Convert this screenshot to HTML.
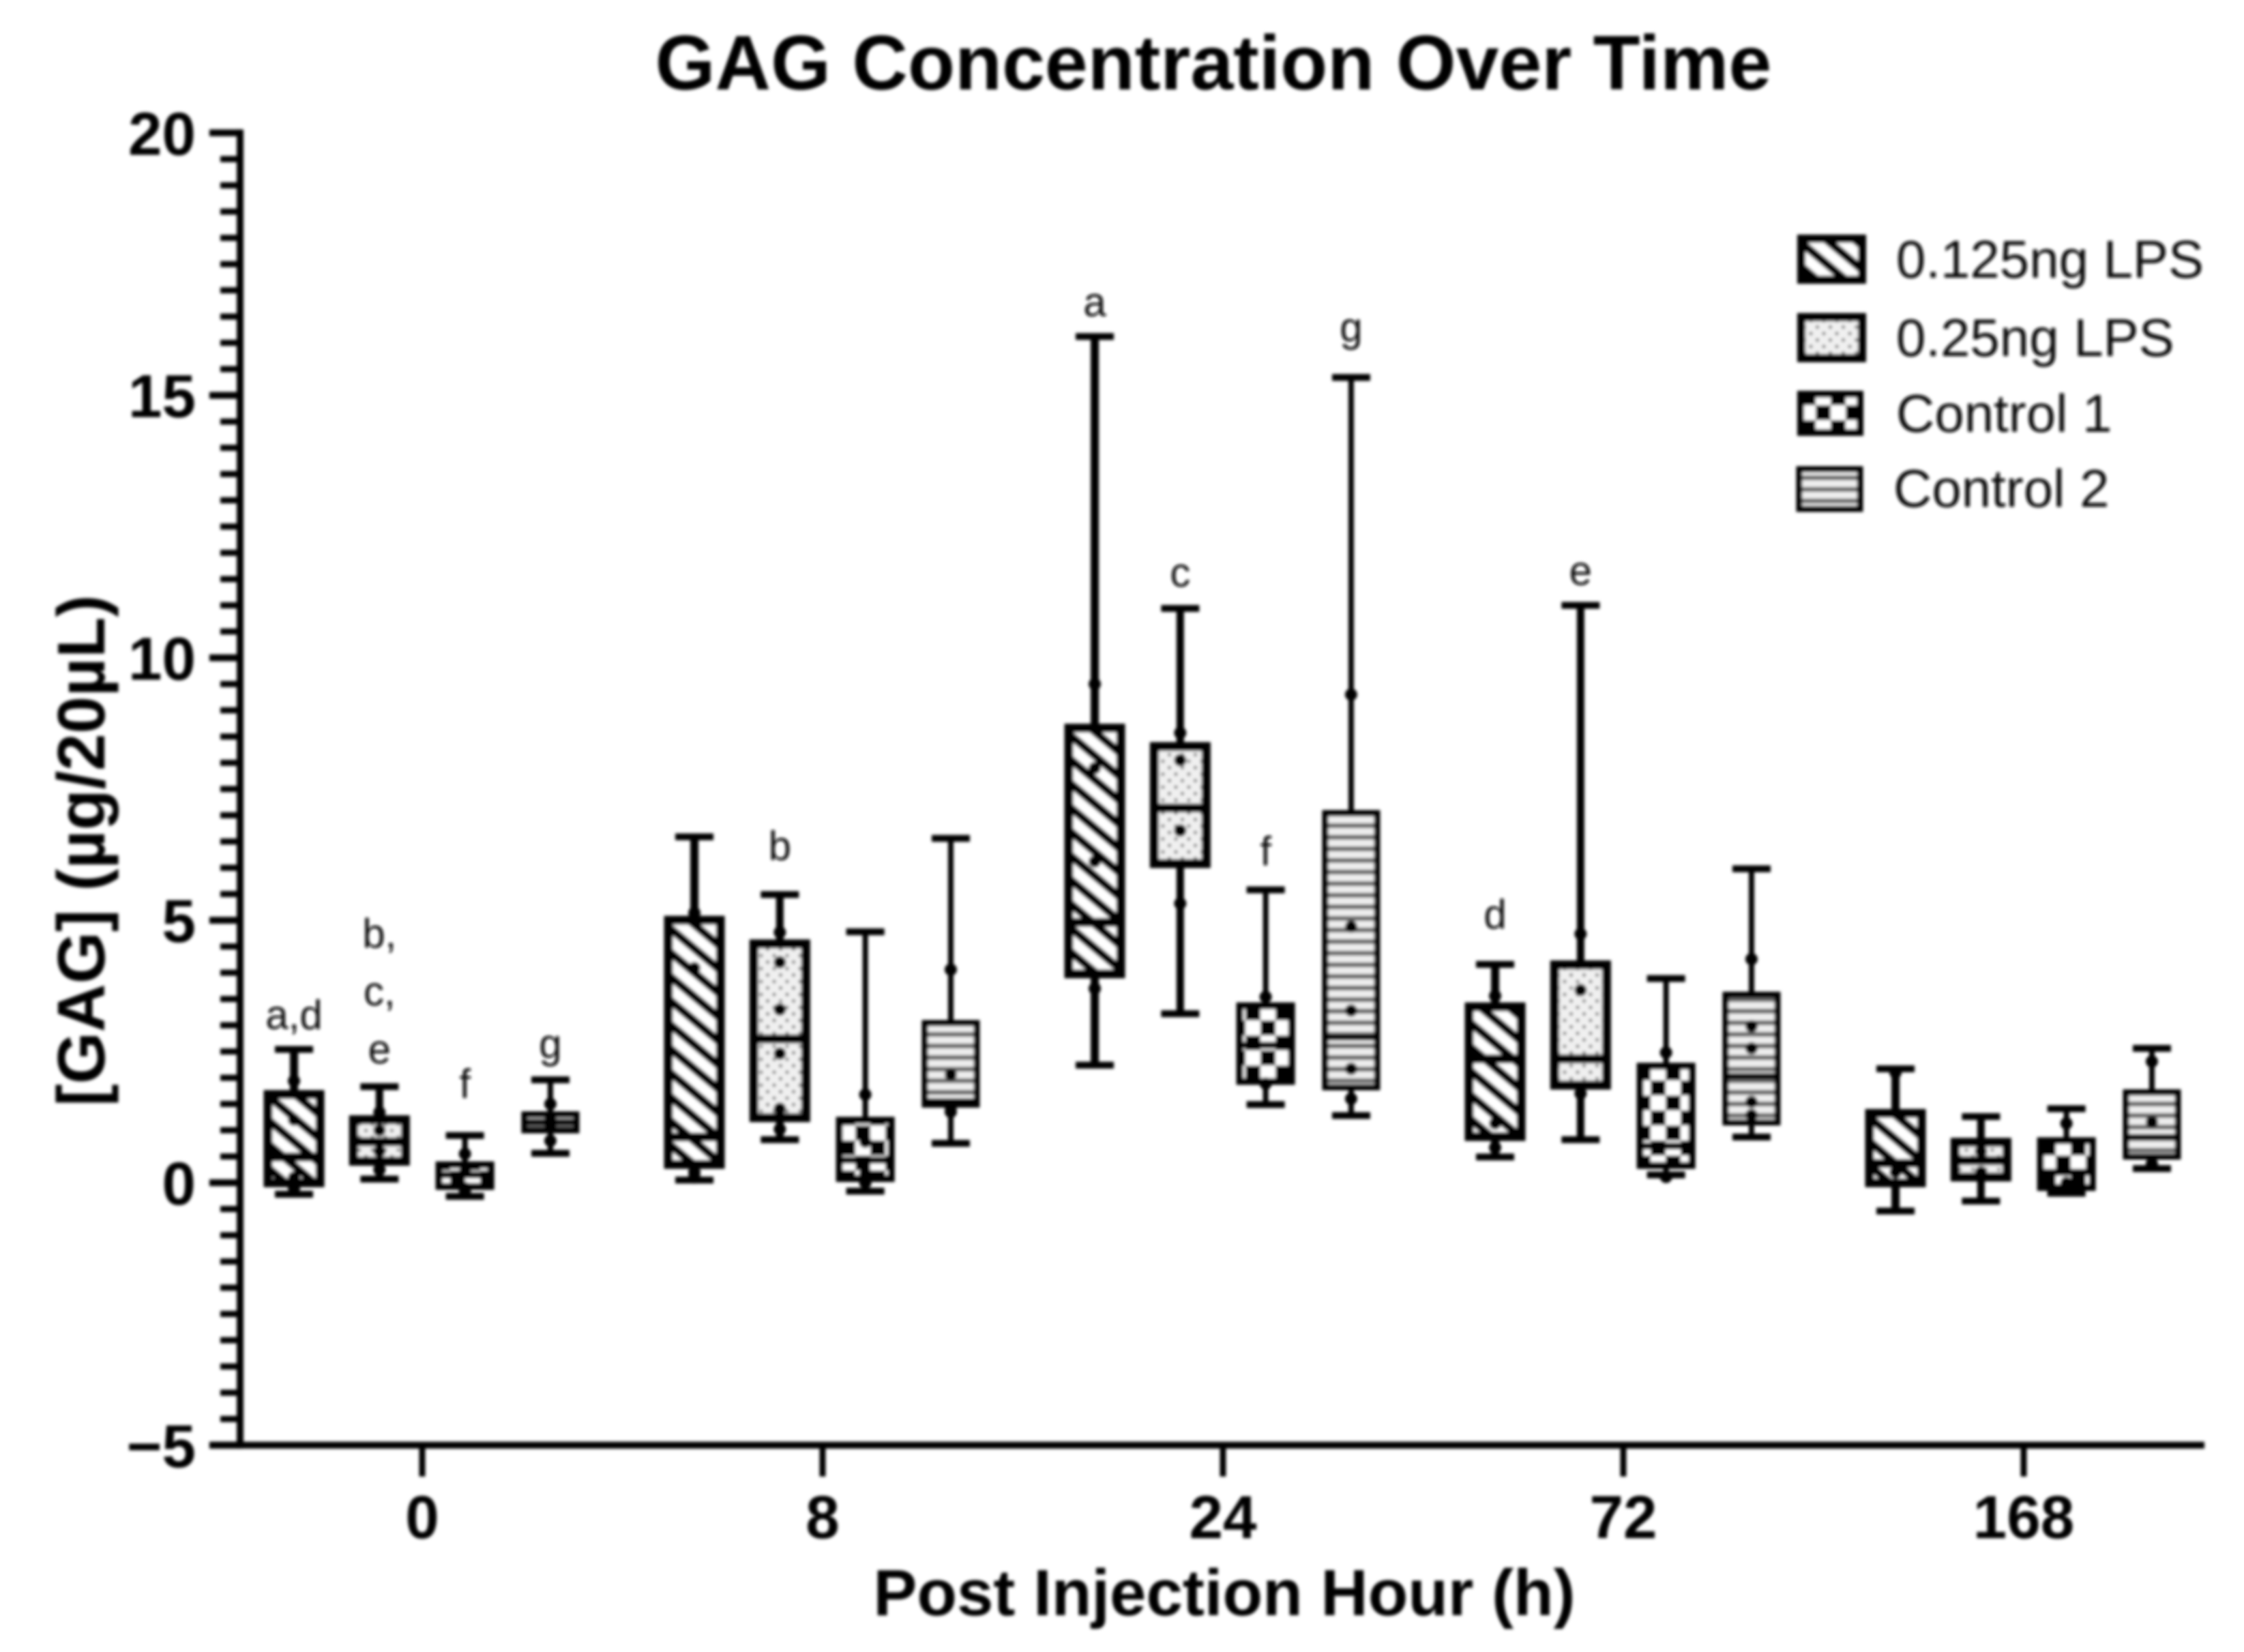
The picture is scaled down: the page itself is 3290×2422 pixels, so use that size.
<!DOCTYPE html>
<html lang="en">
<head>
<meta charset="utf-8">
<title>GAG Concentration Over Time</title>
<style>
html,body{margin:0;padding:0;background:#fff;}
svg{display:block;}
text{font-family:"Liberation Sans",Arial,sans-serif;fill:#000;}
.bold{font-weight:bold;}
.sig{fill:#111;font-size:60px;text-anchor:middle;}
.leg{fill:#111;font-size:78px;}
</style>
</head>
<body>
<svg id="chart" xmlns="http://www.w3.org/2000/svg" width="3290" height="2422" viewBox="0 0 3290 2422">
<defs>
<filter id="soft" x="-5%" y="-5%" width="110%" height="110%"><feGaussianBlur stdDeviation="2.3"/></filter>
<pattern id="p-stripe" patternUnits="userSpaceOnUse" width="27" height="27" patternTransform="rotate(40)">
<rect width="27" height="27" fill="#fff"/><rect width="27" height="12" fill="#000"/>
</pattern>
<pattern id="p-dots" patternUnits="userSpaceOnUse" width="19" height="19">
<rect width="19" height="19" fill="#f0f0f0"/><circle cx="4.5" cy="4.5" r="2.6" fill="#777"/><circle cx="14" cy="14" r="2.6" fill="#777"/>
</pattern>
<pattern id="p-check" patternUnits="userSpaceOnUse" width="44" height="44">
<rect width="44" height="44" fill="#fff"/><rect width="22" height="22" fill="#000"/><rect x="22" y="22" width="22" height="22" fill="#000"/>
</pattern>
<pattern id="p-lines" patternUnits="userSpaceOnUse" width="17" height="17">
<rect width="17" height="17" fill="#eee"/><rect width="17" height="7" fill="#666"/>
</pattern>
</defs>
<g id="root" filter="url(#soft)">
<text class="bold" x="1779" y="131" font-size="113" text-anchor="middle">GAG Concentration Over Time</text>
<text class="bold" x="0" y="0" font-size="98" text-anchor="middle" transform="translate(153 1247) rotate(-90)">[GAG] (µg/20µL)</text>
<text class="bold" x="1795" y="2368" font-size="96" text-anchor="middle">Post Injection Hour (h)</text>

<g>
<g>
<rect x="2641" y="350" width="89" height="60" fill="url(#p-stripe)" stroke="#000" stroke-width="12"/>
<text class="leg" x="2780" y="407">0.125ng LPS</text>
</g>
<g>
<rect x="2641" y="465" width="89" height="60" fill="url(#p-dots)" stroke="#000" stroke-width="12"/>
<text class="leg" x="2780" y="522">0.25ng LPS</text>
</g>
<g>
<rect x="2640" y="578" width="87" height="56" fill="url(#p-check)" stroke="#000" stroke-width="10"/>
<text class="leg" x="2780" y="633">Control 1</text>
</g>
<g>
<rect x="2638" y="688" width="89" height="58" fill="url(#p-lines)" stroke="#000" stroke-width="9"/>
<text class="leg" x="2776" y="743">Control 2</text>
</g>
</g>
</g>
</svg>
<script>
// ---- chart data: rows are time points, columns are series ----
const categories = ['0', '8', '24', '72', '168'];
const seriesNames = ['0.125ng LPS', '0.25ng LPS', 'Control 1', 'Control 2'];
const yTickLabels = [20, 15, 10, 5, 0, -5];
const whiskerHigh = [
  [2.54, 1.83, 0.90, 1.96],
  [6.59, 5.49, 4.78, 6.56],
  [16.12, 10.94, 5.58, 15.34],
  [4.16, 11.00, 3.89, 5.98],
  [2.17, 1.26, 1.41, 2.56]
];
const quartile3 = [
  [1.68, 1.20, 0.34, 1.30],
  [5.00, 4.55, 1.19, 3.04],
  [8.66, 8.31, 3.37, 7.04],
  [3.35, 4.15, 2.22, 3.58],
  [1.32, 0.77, 0.80, 1.72]
];
const medians = [
  [0.49, 0.78, 0.15, 1.16],
  [0.87, 2.74, 0.43, 1.55],
  [4.96, 7.14, 2.62, 2.77],
  [2.36, 2.36, 0.70, 2.03],
  [0.37, 0.42, 0.20, 0.87]
];
const quartile1 = [
  [0.00, 0.41, -0.07, 1.00],
  [0.35, 1.24, 0.08, 1.49],
  [3.98, 6.08, 1.93, 1.82],
  [0.88, 1.86, 0.33, 1.15],
  [0.00, 0.11, -0.09, 0.50]
];
const whiskerLow = [
  [-0.22, 0.07, -0.26, 0.56],
  [0.05, 0.82, -0.16, 0.75],
  [2.24, 3.22, 1.49, 1.28],
  [0.49, 0.82, 0.15, 0.87],
  [-0.54, -0.35, -0.20, 0.27]
];
const samplePoints = [
  [[1.94, 1.20, 0.10, -0.10], [1.34, 1.00, 0.60, 0.25], [0.55, 0.20, -0.10, -0.15], [1.50, 1.20, 1.10, 0.80]],
  [[5.14, 4.09, 0.20, 0.10], [4.77, 4.20, 3.30, 2.46, 1.41, 1.02], [1.68, 0.78, 0.18, 0.00], [4.06, 2.06, 1.45, 1.35]],
  [[9.50, 7.90, 6.12, 3.70], [8.57, 8.05, 6.71, 5.32], [3.54, 1.89], [9.30, 4.88, 3.28, 2.17, 1.60]],
  [[3.56, 1.13, 0.67], [4.74, 3.67, 1.70], [2.48, 0.11], [4.26, 2.98, 2.56, 1.54, 1.29]],
  [[2.10, 0.20], [0.60, 0.20], [1.13, 0.00], [2.31, 1.16, 0.36]]
];
const sigLetters = [
  [['a,d'], ['b,', 'c,', 'e'], ['f'], ['g']],
  [[], ['b'], [], []],
  [['a'], ['c'], ['f'], ['g']],
  [['d'], ['e'], [], []],
  [[], [], [], []]
];

// ---- layout (not data) ----
const SVGNS = 'http://www.w3.org/2000/svg';
const root = document.getElementById('root');
const labelGap = [
  [30, 34, 55, 32],
  [30, 51, 30, 30],
  [30, 32, 36, 53],
  [53, 30, 30, 30],
  [30, 30, 30, 30]
];
function yScale(v) { return 1734 - 76.96 * v; }
function xCategory(i) { return 619 + 587 * i; }
function xBox(i, s) { return xCategory(i) + (s - 1.5) * 125.3; }
function make(tag, attrs, parent) {
  const el = document.createElementNS(SVGNS, tag);
  for (const k in attrs) el.setAttribute(k, attrs[k]);
  parent.appendChild(el);
  return el;
}

const seriesFills = ['url(#p-stripe)', 'url(#p-dots)', 'url(#p-check)', 'url(#p-lines)'];
const seriesBoxStroke = [13, 13, 10, 9];
const seriesWhiskerStroke = [12, 11, 8, 8];
const AXIS_X = 352;
const AXIS_Y = yScale(-5);

// ---- axes ----
const axes = make('g', {}, root);



const yLine = make('line', {x1: AXIS_X, x2: AXIS_X, y1: yScale(20) - 5, y2: AXIS_Y + 5, stroke: '#000', 'stroke-width': 10}, axes);



const xLine = make('line', {x1: AXIS_X - 45, x2: 3232, y1: AXIS_Y, y2: AXIS_Y, stroke: '#000', 'stroke-width': 10}, axes);



yTickLabels.forEach(function (t) {
  const tick = make('line', {x1: AXIS_X - 45, x2: AXIS_X, y1: yScale(t), y2: yScale(t), stroke: '#000', 'stroke-width': 10}, axes);
  
  
  const label = make('text', {x: AXIS_X - 65, y: yScale(t) + 32, 'font-size': 89, 'text-anchor': 'end', 'class': 'bold'}, axes);
  
  
  label.textContent = t < 0 ? '\u2212' + Math.abs(t) : String(t);
});

for (let m = -4.5; m < 20; m += 0.5) {
  if (m % 5 === 0) continue;
  const tick = make('line', {x1: AXIS_X - 29, x2: AXIS_X, y1: yScale(m), y2: yScale(m), stroke: '#000', 'stroke-width': 9}, axes);
  
  
}

categories.forEach(function (c, i) {
  const x = xCategory(i);
  const tick = make('line', {x1: x, x2: x, y1: AXIS_Y, y2: AXIS_Y + 46, stroke: '#000', 'stroke-width': 9}, axes);
  
  
  const label = make('text', {x: x, y: 2255, 'font-size': 89, 'text-anchor': 'middle', 'class': 'bold'}, axes);
  
  
  label.textContent = c;
});

// ---- boxes ----
categories.forEach(function (c, i) {
  seriesNames.forEach(function (name, s) {
    const x = xBox(i, s);
    const halfW = 38;
    const capW = 28;
    const g = make('g', {}, root);
    
    

    const whisker = make('line', {x1: x, x2: x, y1: yScale(whiskerHigh[i][s]), y2: yScale(whiskerLow[i][s]), stroke: '#000', 'stroke-width': seriesWhiskerStroke[s]}, g);
    
    

    const capHigh = make('line', {x1: x - capW, x2: x + capW, y1: yScale(whiskerHigh[i][s]), y2: yScale(whiskerHigh[i][s]), stroke: '#000', 'stroke-width': 10}, g);
    
    

    const capLow = make('line', {x1: x - capW, x2: x + capW, y1: yScale(whiskerLow[i][s]), y2: yScale(whiskerLow[i][s]), stroke: '#000', 'stroke-width': 10}, g);
    
    

    const box = make('rect', {x: x - halfW, y: yScale(quartile3[i][s]), width: halfW * 2, height: yScale(quartile1[i][s]) - yScale(quartile3[i][s]), fill: seriesFills[s], stroke: '#000', 'stroke-width': seriesBoxStroke[s]}, g);
    
    

    const med = make('line', {x1: x - halfW, x2: x + halfW, y1: yScale(medians[i][s]), y2: yScale(medians[i][s]), stroke: '#000', 'stroke-width': seriesBoxStroke[s]}, g);
    
    

    samplePoints[i][s].forEach(function (v) {
      const pt = make('circle', {cx: x, cy: yScale(v), r: 9, fill: '#000'}, g);
      
      
    });

    const lines = sigLetters[i][s];
    lines.forEach(function (txt, k) {
      const baseY = yScale(whiskerHigh[i][s]) - labelGap[i][s] - (lines.length - 1 - k) * 85;
      const t = make('text', {x: x, y: baseY, 'class': 'sig'}, g);
      
      
      t.textContent = txt;
    });
  });
});
</script>
</body>
</html>
